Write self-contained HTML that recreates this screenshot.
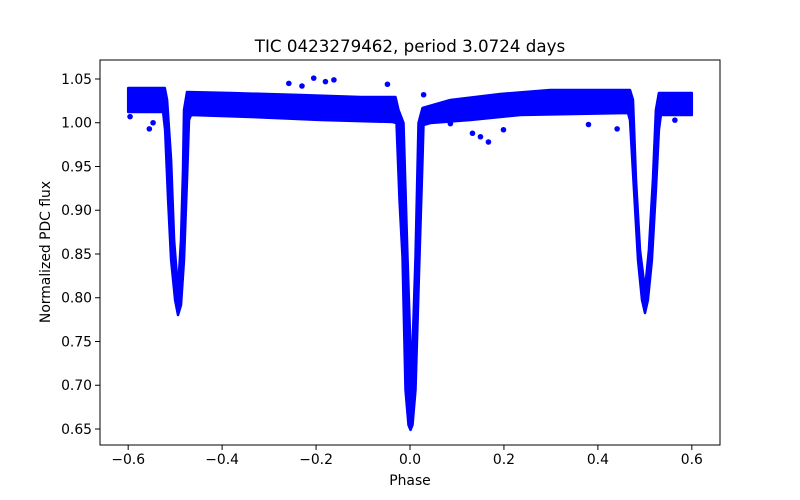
<!DOCTYPE html>
<html><head><meta charset="utf-8"><style>
html,body{margin:0;padding:0;background:#fff;}
svg{display:block;font-family:"DejaVu Sans","Liberation Sans",sans-serif;}
</style></head><body>
<svg id="chart" width="800" height="500" viewBox="0 0 800 500">
<rect width="800" height="500" fill="#fff"/>
<text x="410" y="52" text-anchor="middle" font-size="16.7" fill="#000">TIC 0423279462, period 3.0724 days</text>
<g id="plot"></g>
<g id="axes"></g>
<text x="410" y="485" text-anchor="middle" font-size="13.9">Phase</text>
<text transform="translate(50,252) rotate(-90)" text-anchor="middle" font-size="13.9">Normalized PDC flux</text>
</svg>
<script>
const upperPhase=[-0.6,-0.522,-0.5172,-0.5087,-0.5023,-0.4939,-0.4875,-0.4833,-0.4811,-0.4748,-0.3813,-0.2326,-0.1051,-0.0308,-0.0244,-0.0138,-0.0053,0.0032,0.0117,0.0181,0.0266,0.086,0.1922,0.2984,0.4684,0.4748,0.4812,0.4897,0.5003,0.5087,0.5172,0.5236,0.53,0.6];
const upperFlux=[1.0397,1.0397,1.026,0.9574,0.866,0.8089,0.866,0.946,1.0146,1.0351,1.034,1.0317,1.0294,1.0294,1.0146,0.9997,0.8466,0.706,0.8466,0.9997,1.0169,1.026,1.0329,1.0374,1.0374,1.026,0.9346,0.8546,0.8089,0.8546,0.9346,1.0146,1.034,1.034];
const lowerPhase=[-0.6,-0.5257,-0.5214,-0.5151,-0.5087,-0.5002,-0.4939,-0.4875,-0.4811,-0.4748,-0.4706,-0.4663,-0.3388,-0.1901,-0.0372,-0.0287,-0.0223,-0.0159,-0.0096,-0.0032,0.0011,0.0053,0.0117,0.0202,0.0266,0.0287,0.0435,0.1285,0.2347,0.4641,0.4684,0.4769,0.4854,0.4939,0.5003,0.5066,0.5151,0.5236,0.53,0.5342,0.6];
const lowerFlux=[1.0123,1.0123,0.9917,0.9117,0.8431,0.7974,0.7803,0.7917,0.8431,0.9346,1.0031,1.0089,1.0066,1.0031,1.0009,0.9997,0.9117,0.8466,0.6946,0.6546,0.6489,0.6546,0.6946,0.8466,0.9574,0.9974,0.9997,1.0031,1.0089,1.0111,1.0031,0.9231,0.8431,0.7974,0.7826,0.7974,0.8431,0.9231,0.9917,1.0089,1.0089];
const outlierPhase=[-0.205,-0.258,-0.162,-0.048,-0.596,-0.555,-0.547,0.167,0.199,0.133,0.441,0.086,0.564,0.029,-0.23,-0.18,0.15,0.38];
const outlierFlux=[1.051,1.045,1.049,1.044,1.007,0.993,1.0,0.978,0.992,0.988,0.993,0.999,1.003,1.032,1.042,1.047,0.984,0.998];
const xTicks=[-0.6,-0.4,-0.2,0.0,0.2,0.4,0.6];
const xTickLabels=["\u22120.6","\u22120.4","\u22120.2","0.0","0.2","0.4","0.6"];
const yTicks=[0.65,0.70,0.75,0.80,0.85,0.90,0.95,1.00,1.05];
const yTickLabels=["0.65","0.70","0.75","0.80","0.85","0.90","0.95","1.00","1.05"];

const L=100,R=720,T=60,B=445,xMin=-0.66,xMax=0.66,yMin=0.6317,yMax=1.0717;
const sx=v=>L+(v-xMin)/(xMax-xMin)*(R-L);
const sy=v=>B-(v-yMin)/(yMax-yMin)*(B-T);
const NS="http://www.w3.org/2000/svg";
const plot=document.getElementById('plot'),axes=document.getElementById('axes');
function mk(tag,attrs,parent){const e=document.createElementNS(NS,tag);for(const k in attrs)e.setAttribute(k,attrs[k]);parent.appendChild(e);return e;}

let pts=[];
for(let i=0;i<upperPhase.length;i++)pts.push(sx(upperPhase[i]).toFixed(1)+","+sy(upperFlux[i]).toFixed(1));
for(let i=lowerPhase.length-1;i>=0;i--)pts.push(sx(lowerPhase[i]).toFixed(1)+","+sy(lowerFlux[i]).toFixed(1));
const band=mk('polygon',{points:pts.join(' '),fill:'#0000ff',stroke:'#0000ff','stroke-width':2.5,'stroke-linejoin':'round'},plot);



for(let i=0;i<outlierPhase.length;i++){
  const c=mk('circle',{cx:sx(outlierPhase[i]),cy:sy(outlierFlux[i]),r:2.8,fill:'#0000ff'},plot);
  
  
}

const frame=mk('rect',{x:L,y:T,width:R-L,height:B-T,fill:'none',stroke:'#000','stroke-width':1},axes);



xTicks.forEach((v,i)=>{
  const x=sx(v);
  const t=mk('line',{x1:x,x2:x,y1:B,y2:B+5,stroke:'#000','stroke-width':1},axes);
  
  
  const lb=mk('text',{x:x,y:B+19,'text-anchor':'middle','font-size':13.9},axes);
  lb.textContent=xTickLabels[i];
  
  
});
yTicks.forEach((v,i)=>{
  const y=sy(v);
  const t=mk('line',{x1:L-5,x2:L,y1:y,y2:y,stroke:'#000','stroke-width':1},axes);
  
  
  const lb=mk('text',{x:L-8,y:y+5,'text-anchor':'end','font-size':13.9},axes);
  lb.textContent=yTickLabels[i];
  
  
});
</script>
</body></html>
